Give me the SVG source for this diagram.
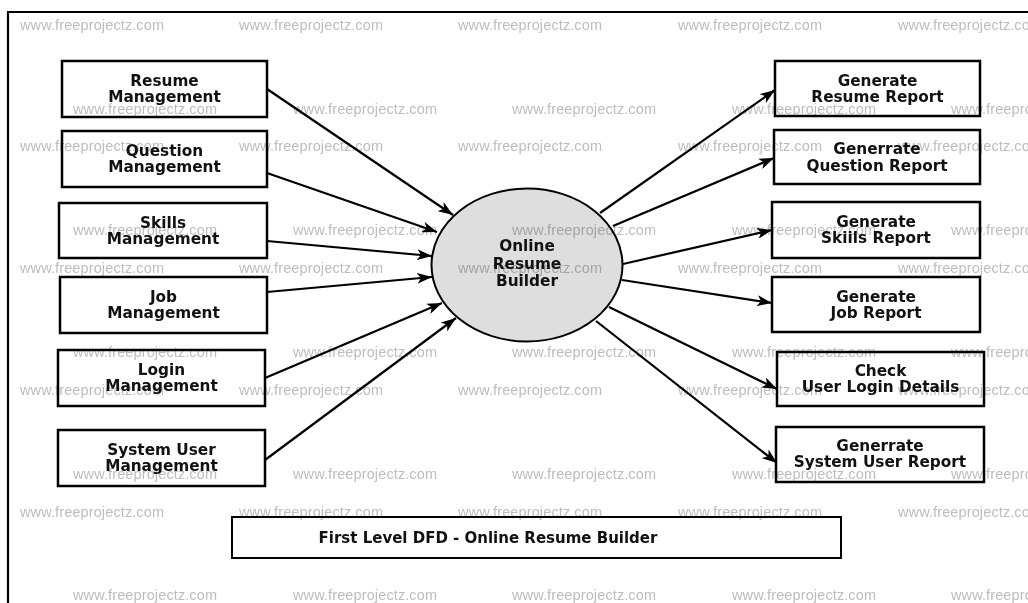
<svg xmlns="http://www.w3.org/2000/svg" width="1028" height="603" viewBox="0 0 1028 603">
<style>
.box{fill:#fff;stroke:#000;stroke-width:2.5}
.lbl{font-family:"DejaVu Sans",sans-serif;font-weight:bold;font-size:15.3px;fill:#111;text-anchor:middle}
.con{stroke:#000;stroke-width:2.2;fill:none;marker-end:url(#ah)}
.wm{font-family:"Liberation Sans",Arial,sans-serif;font-size:14.5px;fill:#bdbdbd}
</style>
<defs>
<marker id="ah" viewBox="0 0 15 11" refX="15" refY="5.5" markerWidth="15" markerHeight="11" markerUnits="userSpaceOnUse" orient="auto">
<path d="M0,0 L15,5.5 L0,11 L4,5.5 z" fill="#000"/>
</marker>
</defs>
<rect width="1028" height="603" fill="#fff"/>
<path d="M8,603 V12 H1028" fill="none" stroke="#000" stroke-width="2.2"/>

<g id="connectors">
<line class="con" x1="267" y1="89" x2="453" y2="215"/>
<line class="con" x1="267" y1="173" x2="437" y2="232"/>
<line class="con" x1="267" y1="241" x2="432" y2="256"/>
<line class="con" x1="267" y1="292" x2="432" y2="277"/>
<line class="con" x1="265" y1="378" x2="442" y2="303"/>
<line class="con" x1="265" y1="460" x2="456" y2="318"/>
<line class="con" x1="600" y1="213" x2="775" y2="90"/>
<line class="con" x1="613" y1="226" x2="774" y2="158"/>
<line class="con" x1="623" y1="264" x2="772" y2="230"/>
<line class="con" x1="622" y1="280" x2="772" y2="303"/>
<line class="con" x1="609" y1="307" x2="777" y2="389"/>
<line class="con" x1="596" y1="321" x2="777" y2="463"/>
</g>

<g id="process">
<ellipse cx="527" cy="265" rx="95.5" ry="76.5" fill="#dedede" stroke="#000" stroke-width="2"/>
<text class="lbl" x="527" y="251">Online</text>
<text class="lbl" x="527" y="268.5">Resume</text>
<text class="lbl" x="527" y="286">Builder</text>
</g>

<g id="resume-management"><rect class="box" x="62" y="61" width="205" height="56"/><text class="lbl" x="164.5" y="86">Resume</text><text class="lbl" x="164.5" y="102">Management</text></g>
<g id="question-management"><rect class="box" x="62" y="131" width="205" height="56"/><text class="lbl" x="164.5" y="156">Question</text><text class="lbl" x="164.5" y="172">Management</text></g>
<g id="skills-management"><rect class="box" x="59" y="203" width="208" height="55"/><text class="lbl" x="163" y="227.5">Skills</text><text class="lbl" x="163" y="243.5">Management</text></g>
<g id="job-management"><rect class="box" x="60" y="277" width="207" height="56"/><text class="lbl" x="163.5" y="302">Job</text><text class="lbl" x="163.5" y="318">Management</text></g>
<g id="login-management"><rect class="box" x="58" y="350" width="207" height="56"/><text class="lbl" x="161.5" y="375">Login</text><text class="lbl" x="161.5" y="391">Management</text></g>
<g id="system-user-management"><rect class="box" x="58" y="430" width="207" height="56"/><text class="lbl" x="161.5" y="455">System User</text><text class="lbl" x="161.5" y="471">Management</text></g>

<g id="resume-report"><rect class="box" x="775" y="61" width="205" height="55"/><text class="lbl" x="877.5" y="85.5">Generate</text><text class="lbl" x="877.5" y="101.5">Resume Report</text></g>
<g id="question-report"><rect class="box" x="774" y="130" width="206" height="54"/><text class="lbl" x="877" y="154">Generrate</text><text class="lbl" x="877" y="170.5">Question Report</text></g>
<g id="skills-report"><rect class="box" x="772" y="202" width="208" height="56"/><text class="lbl" x="876" y="227">Generate</text><text class="lbl" x="876" y="243">Skiils Report</text></g>
<g id="job-report"><rect class="box" x="772" y="277" width="208" height="55"/><text class="lbl" x="876" y="301.5">Generate</text><text class="lbl" x="876" y="317.5">Job Report</text></g>
<g id="login-details"><rect class="box" x="777" y="352" width="207" height="54"/><text class="lbl" x="880.5" y="376">Check</text><text class="lbl" x="880.5" y="392">User Login Details</text></g>
<g id="system-user-report"><rect class="box" x="776" y="427" width="208" height="55"/><text class="lbl" x="880" y="451">Generrate</text><text class="lbl" x="880" y="467">System User Report</text></g>

<g id="title"><rect x="232" y="517" width="609" height="41" fill="#fff" stroke="#000" stroke-width="2"/><text class="lbl" x="488" y="542.5" style="font-size:15px">First Level DFD - Online Resume Builder</text></g>

<g id="watermarks" style="mix-blend-mode:multiply">
<text class="wm" x="20" y="30" textLength="144">www.freeprojectz.com</text>
<text class="wm" x="239" y="30" textLength="144">www.freeprojectz.com</text>
<text class="wm" x="458" y="30" textLength="144">www.freeprojectz.com</text>
<text class="wm" x="678" y="30" textLength="144">www.freeprojectz.com</text>
<text class="wm" x="898" y="30" textLength="144">www.freeprojectz.com</text>
<text class="wm" x="73" y="114" textLength="144">www.freeprojectz.com</text>
<text class="wm" x="293" y="114" textLength="144">www.freeprojectz.com</text>
<text class="wm" x="512" y="114" textLength="144">www.freeprojectz.com</text>
<text class="wm" x="732" y="114" textLength="144">www.freeprojectz.com</text>
<text class="wm" x="951" y="114" textLength="144">www.freeprojectz.com</text>
<text class="wm" x="20" y="151" textLength="144">www.freeprojectz.com</text>
<text class="wm" x="239" y="151" textLength="144">www.freeprojectz.com</text>
<text class="wm" x="458" y="151" textLength="144">www.freeprojectz.com</text>
<text class="wm" x="678" y="151" textLength="144">www.freeprojectz.com</text>
<text class="wm" x="898" y="151" textLength="144">www.freeprojectz.com</text>
<text class="wm" x="73" y="235" textLength="144">www.freeprojectz.com</text>
<text class="wm" x="293" y="235" textLength="144">www.freeprojectz.com</text>
<text class="wm" x="512" y="235" textLength="144">www.freeprojectz.com</text>
<text class="wm" x="732" y="235" textLength="144">www.freeprojectz.com</text>
<text class="wm" x="951" y="235" textLength="144">www.freeprojectz.com</text>
<text class="wm" x="20" y="273" textLength="144">www.freeprojectz.com</text>
<text class="wm" x="239" y="273" textLength="144">www.freeprojectz.com</text>
<text class="wm" x="458" y="273" textLength="144">www.freeprojectz.com</text>
<text class="wm" x="678" y="273" textLength="144">www.freeprojectz.com</text>
<text class="wm" x="898" y="273" textLength="144">www.freeprojectz.com</text>
<text class="wm" x="73" y="357" textLength="144">www.freeprojectz.com</text>
<text class="wm" x="293" y="357" textLength="144">www.freeprojectz.com</text>
<text class="wm" x="512" y="357" textLength="144">www.freeprojectz.com</text>
<text class="wm" x="732" y="357" textLength="144">www.freeprojectz.com</text>
<text class="wm" x="951" y="357" textLength="144">www.freeprojectz.com</text>
<text class="wm" x="20" y="395" textLength="144">www.freeprojectz.com</text>
<text class="wm" x="239" y="395" textLength="144">www.freeprojectz.com</text>
<text class="wm" x="458" y="395" textLength="144">www.freeprojectz.com</text>
<text class="wm" x="678" y="395" textLength="144">www.freeprojectz.com</text>
<text class="wm" x="898" y="395" textLength="144">www.freeprojectz.com</text>
<text class="wm" x="73" y="479" textLength="144">www.freeprojectz.com</text>
<text class="wm" x="293" y="479" textLength="144">www.freeprojectz.com</text>
<text class="wm" x="512" y="479" textLength="144">www.freeprojectz.com</text>
<text class="wm" x="732" y="479" textLength="144">www.freeprojectz.com</text>
<text class="wm" x="951" y="479" textLength="144">www.freeprojectz.com</text>
<text class="wm" x="20" y="517" textLength="144">www.freeprojectz.com</text>
<text class="wm" x="239" y="517" textLength="144">www.freeprojectz.com</text>
<text class="wm" x="458" y="517" textLength="144">www.freeprojectz.com</text>
<text class="wm" x="678" y="517" textLength="144">www.freeprojectz.com</text>
<text class="wm" x="898" y="517" textLength="144">www.freeprojectz.com</text>
<text class="wm" x="73" y="600" textLength="144">www.freeprojectz.com</text>
<text class="wm" x="293" y="600" textLength="144">www.freeprojectz.com</text>
<text class="wm" x="512" y="600" textLength="144">www.freeprojectz.com</text>
<text class="wm" x="732" y="600" textLength="144">www.freeprojectz.com</text>
<text class="wm" x="951" y="600" textLength="144">www.freeprojectz.com</text>
</g>
</svg>
